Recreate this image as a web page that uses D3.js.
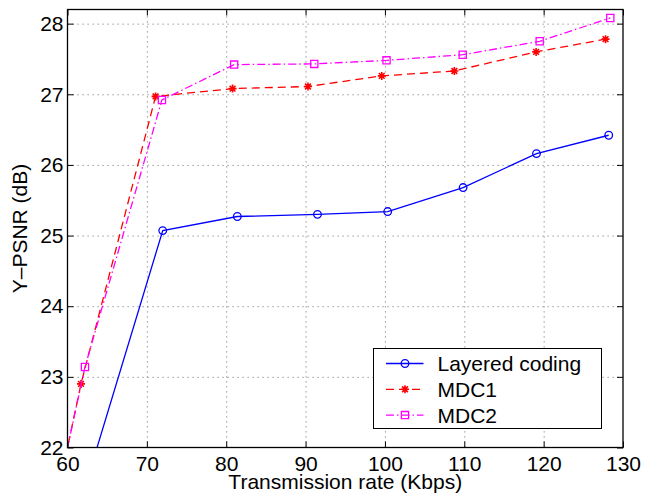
<!DOCTYPE html>
<html><head>
<script src="https://d3js.org/d3.v7.min.js"></script>
<style>
  body { margin: 0; background: #fff; }
  .chart text { font-family: "Liberation Sans", Arial, sans-serif; fill: #000; }
  .grid line { stroke: #808080; stroke-dasharray: 1.2,3.8; }
  .grid path { stroke: none; }
</style>
</head><body>
<svg class="chart"></svg>
<script>
var W = 652, H = 500;
var mLeft = 67.5, mTop = 9.5, width = 555.5, height = 438;

// values
var layeredX = [62, 72.0, 81.4, 91.5, 100.35, 109.85, 119.1, 128.2];
var layeredY = [21.36, 25.07, 25.27, 25.30, 25.34, 25.68, 26.16, 26.42];
var mdc1X = [55, 61.7, 71.1, 80.8, 90.3, 99.6, 108.75, 119.05, 127.8];
var mdc1Y = [19.35, 22.9, 26.97, 27.08, 27.11, 27.26, 27.33, 27.6, 27.78];
var mdc2X = [55, 62.2, 71.9, 81.0, 91.1, 100.2, 109.8, 119.5, 128.4];
var mdc2Y = [19.41, 23.14, 26.92, 27.42, 27.43, 27.48, 27.56, 27.75, 28.08];
var xTicks = [60, 70, 80, 90, 100, 110, 120, 130];
var yTicks = [22, 23, 24, 25, 26, 27, 28];
var names = ["Layered coding", "MDC1", "MDC2"];

var series = [
  {name: names[0], xs: layeredX, ys: layeredY, color: "#0000ff", dash: null, marker: "o"},
  {name: names[1], xs: mdc1X, ys: mdc1Y, color: "#ff0000", dash: "8,5", marker: "*"},
  {name: names[2], xs: mdc2X, ys: mdc2Y, color: "#ff00ff", dash: "8,3,1.5,3", marker: "s"}
];

var x = d3.scaleLinear().domain([60, 130]).range([0, width]);
var y = d3.scaleLinear().domain([22, 28.2]).range([height, 0]);

var svg = d3.select(".chart").attr("width", W).attr("height", H);
var g = svg.append("g").attr("transform", "translate(" + mLeft + "," + mTop + ")");

svg.append("defs").append("clipPath").attr("id", "clip")
  .append("rect").attr("width", width).attr("height", height);

// grid
g.append("g").attr("class", "grid")
  .attr("transform", "translate(0," + height + ")")
  .call(d3.axisBottom(x).tickValues(xTicks.slice(1, -1)).tickSize(-height).tickFormat(""));
g.append("g").attr("class", "grid")
  .call(d3.axisLeft(y).tickValues(yTicks.slice(1)).tickSize(-width).tickFormat(""));

function markerPath(type) {
  if (type === "*") {
    var r = 4, d = r * 0.72;
    return "M" + (-r) + ",0L" + r + ",0M0," + (-r) + "L0," + r +
      "M" + (-d) + "," + (-d) + "L" + d + "," + d + "M" + (-d) + "," + d + "L" + d + "," + (-d);
  }
  if (type === "s") return "M-3.6,-3.6H3.6V3.6H-3.6Z";
  return d3.symbol().type(d3.symbolCircle).size(Math.PI * 3.8 * 3.8)();
}

var line = d3.line().x(function(d) { return x(d[0]); }).y(function(d) { return y(d[1]); });
var plot = g.append("g").attr("clip-path", "url(#clip)");

series.forEach(function(s) {
  var pts = s.xs.map(function(v, i) { return [v, s.ys[i]]; });
  plot.append("path").datum(pts)
    .attr("d", line)
    .attr("fill", "none")
    .attr("stroke", s.color)
    .attr("stroke-width", 1.3)
    .attr("stroke-dasharray", s.dash);
  plot.selectAll(null).data(pts).enter().append("path")
    .attr("transform", function(d) { return "translate(" + x(d[0]) + "," + y(d[1]) + ")"; })
    .attr("d", markerPath(s.marker))
    .attr("fill", "none")
    .attr("stroke", s.color)
    .attr("stroke-width", s.marker === "*" ? 1.6 : 1.3);
});

// axes, ticks inward on all four sides
function styleAxis(a) {
  a.select(".domain").remove();
  a.selectAll("line").attr("stroke", "#000");
  a.selectAll("text").style("font-size", "21px").attr("fill", "#000");
}
var xa = g.append("g").attr("transform", "translate(0," + height + ")")
  .call(d3.axisBottom(x).tickValues(xTicks).tickSizeInner(-6).tickPadding(9).tickFormat(d3.format("d")));
styleAxis(xa);
var ya = g.append("g")
  .call(d3.axisLeft(y).tickValues(yTicks).tickSizeInner(-6).tickPadding(4).tickFormat(d3.format("d")));
styleAxis(ya);
styleAxis(g.append("g").call(d3.axisTop(x).tickValues(xTicks).tickSizeInner(-6).tickFormat("")));
styleAxis(g.append("g").attr("transform", "translate(" + width + ",0)")
  .call(d3.axisRight(y).tickValues(yTicks).tickSizeInner(-6).tickFormat("")));

g.append("rect").attr("width", width).attr("height", height)
  .attr("fill", "none").attr("stroke", "#000").attr("stroke-width", 1.3);

// titles
svg.append("text")
  .attr("x", mLeft + width / 2).attr("y", 489)
  .attr("text-anchor", "middle").style("font-size", "21px")
  .text("Transmission rate (Kbps)");
svg.append("text")
  .attr("transform", "translate(27," + (mTop + height / 2) + ") rotate(-90)")
  .attr("text-anchor", "middle").style("font-size", "21px")
  .text("Y\u2013PSNR (dB)");

// legend
var lg = svg.append("g").attr("transform", "translate(373.5,348.5)");
lg.append("rect").attr("width", 228).attr("height", 80)
  .attr("fill", "#fff").attr("stroke", "#000").attr("stroke-width", 1);
series.forEach(function(s, i) {
  var cy = 15 + i * 25.8;
  lg.append("line").attr("x1", 12.5).attr("x2", 50).attr("y1", cy).attr("y2", cy)
    .attr("stroke", s.color).attr("stroke-width", 1.3)
    .attr("stroke-dasharray", s.dash);
  lg.append("path").attr("transform", "translate(31.5," + cy + ")")
    .attr("d", markerPath(s.marker)).attr("fill", "none")
    .attr("stroke", s.color).attr("stroke-width", s.marker === "*" ? 1.6 : 1.3);
  lg.append("text").attr("x", 64).attr("y", cy).attr("dy", "0.36em")
    .style("font-size", "21px").text(s.name);
});
</script>
</body></html>
